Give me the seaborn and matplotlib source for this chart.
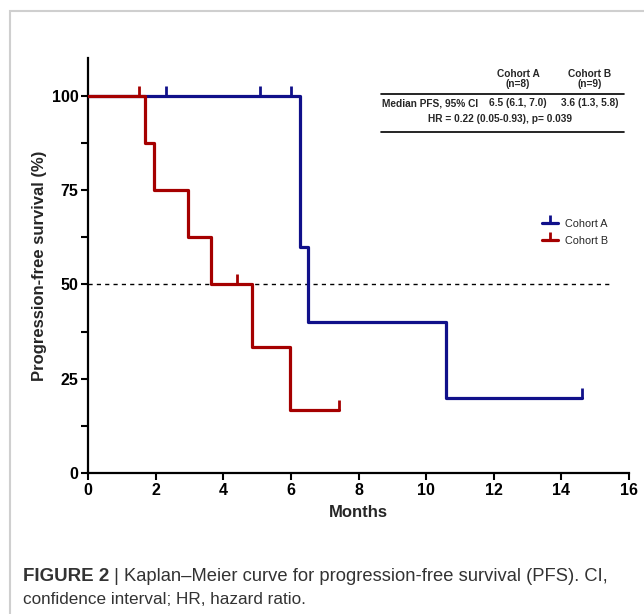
import matplotlib
matplotlib.use("Agg")
import matplotlib.pyplot as plt
from matplotlib.lines import Line2D
from matplotlib.patches import Rectangle
import seaborn as sns
import pandas as pd

# ---- data ----
a_times = [0, 6.27, 6.5, 10.6, 14.6]
a_surv = [100, 60, 40, 20, 20]
a_cens_t = [2.3, 5.1, 6.0, 14.6]
a_cens_s = [100, 100, 100, 20]

b_times = [0, 1.69, 1.95, 2.96, 3.64, 4.85, 5.98, 7.43]
b_surv = [100, 87.5, 75, 62.5, 50, 33.3, 16.7, 16.7]
b_cens_t = [1.5, 4.4, 7.43]
b_cens_s = [100, 50, 16.7]

cohorts = ["Cohort A", "Cohort B"]
x_ticks = [0, 2, 4, 6, 8, 10, 12, 14, 16]
y_ticks = [0, 25, 50, 75, 100]

table_cols = ["Cohort A\n(n=8)", "Cohort B\n(n=9)"]
table_row = "Median PFS, 95% CI"
table_vals = ["6.5 (6.1, 7.0)", "3.6 (1.3, 5.8)"]
table_hr = "HR = 0.22 (0.05-0.93), p= 0.039"

blue = "#10108a"
red = "#a50000"

sns.set_theme(style="ticks")
plt.rcParams["font.family"] = ["Liberation Sans", "DejaVu Sans"]

fig = plt.figure(figsize=(6.44, 6.14), dpi=100)
ax = fig.add_axes([88 / 644, 141 / 614, 541 / 644, 415 / 614])

df = pd.concat([
    pd.DataFrame({"Months": a_times, "Surv": a_surv, "Cohort": cohorts[0]}),
    pd.DataFrame({"Months": b_times, "Surv": b_surv, "Cohort": cohorts[1]}),
])

ax.axhline(50, xmax=15.45 / 16, color="black", lw=1.0, ls=(0, (3, 3)), zorder=1)

sns.lineplot(data=df, x="Months", y="Surv", hue="Cohort",
             palette={cohorts[0]: blue, cohorts[1]: red},
             drawstyle="steps-post", estimator=None, lw=2.3,
             legend=False, ax=ax, zorder=3)

ax.plot(a_cens_t, a_cens_s, ls="none", marker=2, ms=7, mew=2.0, color=blue, zorder=4)
ax.plot(b_cens_t, b_cens_s, ls="none", marker=2, ms=7, mew=2.0, color=red, zorder=4)

ax.set_xlim(0, 16)
ax.set_ylim(0, 110)
ax.set_xticks(x_ticks)
ax.set_yticks(y_ticks)
ax.set_yticks([12.5, 37.5, 62.5, 87.5], minor=True)
for lab in ax.get_xticklabels() + ax.get_yticklabels():
    lab.set_fontweight("bold")
ax.tick_params(axis="both", which="major", labelsize=11.5, length=5, width=1.5,
               color="black", labelcolor="black", pad=2)
ax.tick_params(axis="y", which="minor", length=5, width=1.5, color="black")
for s in ["top", "right"]:
    ax.spines[s].set_visible(False)
for s in ["left", "bottom"]:
    ax.spines[s].set_linewidth(1.6)
    ax.spines[s].set_color("black")

ax.set_xlabel("Months", fontsize=12, fontweight="bold", labelpad=5)
ax.set_ylabel("Progression-free survival (%)", fontsize=12, fontweight="bold", labelpad=3)

handles = [Line2D([], [], color=blue, lw=2.3, marker=2, ms=6, mew=2.0),
           Line2D([], [], color=red, lw=2.3, marker=2, ms=6, mew=2.0)]
ax.legend(handles, cohorts, loc="upper left", bbox_to_anchor=(0.826, 0.63),
          frameon=False, fontsize=7.8, handlelength=1.45, numpoints=1,
          labelspacing=0.65, handletextpad=0.6, borderpad=0.2)

# ---- table ----
def fx(px):
    return px / 644

def fy(py):
    return 1 - py / 614

fs = 7.3
fig.text(fx(518), fy(79), table_cols[0], ha="center", va="center", fontsize=fs,
         fontweight="bold", linespacing=0.95)
fig.text(fx(590), fy(79), table_cols[1], ha="center", va="center", fontsize=fs,
         fontweight="bold", linespacing=0.95)
fig.add_artist(Line2D([fx(381), fx(624)], [fy(94), fy(94)], color="black", lw=1.2))
fig.text(fx(382), fy(103), table_row, ha="left", va="center", fontsize=fs, fontweight="bold")
fig.text(fx(518), fy(103), table_vals[0], ha="center", va="center", fontsize=fs, fontweight="bold")
fig.text(fx(590), fy(103), table_vals[1], ha="center", va="center", fontsize=fs, fontweight="bold")
fig.text(fx(500), fy(119), table_hr, ha="center", va="center", fontsize=fs, fontweight="bold")
fig.add_artist(Line2D([fx(381), fx(624)], [fy(132), fy(132)], color="black", lw=1.2))

# ---- frame and caption ----
fig.add_artist(Rectangle((fx(10), -0.1), 1.2, fy(11) + 0.1, fill=False,
                         edgecolor="#cfcfcf", lw=1.5))
t1 = fig.text(fx(23), fy(581), "FIGURE 2", ha="left", va="baseline",
              fontsize=13.5, fontweight="bold", color="#333333")
ax.annotate(" | Kaplan\u2013Meier curve for progression-free survival (PFS). CI,",
            xy=(1, 0), xycoords=t1, ha="left", va="bottom",
            fontsize=13.2, color="#333333", annotation_clip=False)
fig.text(fx(23), fy(604), "confidence interval; HR, hazard ratio.", ha="left",
         va="baseline", fontsize=12.3, color="#333333")

fig.savefig("out.png", dpi=100)
